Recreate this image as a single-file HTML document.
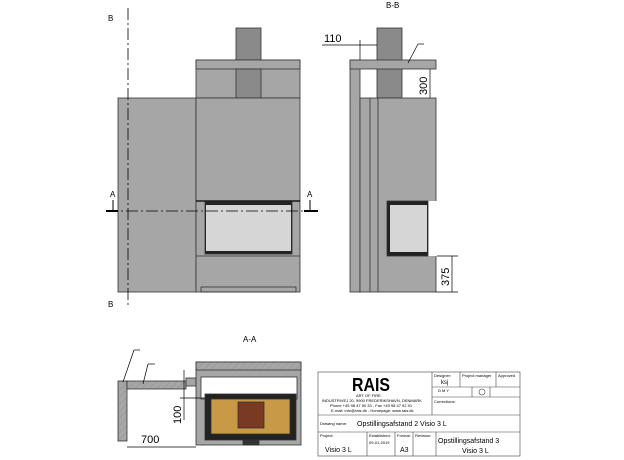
<!DOCTYPE html>
<html><head><style>
body{margin:0;background:#fff}
svg{display:block;font-family:"Liberation Sans",sans-serif}
</style></head><body>
<svg width="624" height="460" viewBox="0 0 624 460" xmlns="http://www.w3.org/2000/svg">
<g stroke="#333" stroke-width="0.8">
<rect x="236" y="28" width="25" height="70" fill="#8a8a8a"/>
<rect x="196" y="60" width="104" height="38" fill="#a6a6a6"/>
<rect x="196" y="60" width="104" height="9" fill="#a6a6a6"/>
<rect x="236" y="69" width="25" height="29" fill="#8a8a8a"/>
<rect x="118" y="98" width="78" height="194" fill="#a6a6a6"/>
<rect x="196" y="98" width="104" height="194" fill="#a6a6a6"/>
<line x1="196" y1="201" x2="300" y2="201" stroke="#000" stroke-width="1.2"/>
<line x1="196" y1="256" x2="300" y2="256"/>
<rect x="205" y="202" width="87" height="52" fill="#222"/>
<rect x="206" y="205" width="85" height="46" fill="#d6d6d6" stroke="none"/>
<rect x="201" y="287" width="95" height="5" fill="none"/>
</g>
<line x1="128" y1="8" x2="128" y2="305" stroke="#000" stroke-width="0.8" stroke-dasharray="12,3,2,3"/>
<line x1="106" y1="211" x2="318" y2="211" stroke="#000" stroke-width="0.8" stroke-dasharray="12,3,2,3"/>
<line x1="106" y1="211" x2="118" y2="211" stroke="#000" stroke-width="2"/>
<line x1="304" y1="211" x2="318" y2="211" stroke="#000" stroke-width="2"/>
<line x1="113" y1="200" x2="113" y2="210" stroke="#000"/>
<line x1="310" y1="200" x2="310" y2="210" stroke="#000"/>
<g font-size="8" fill="#000">
<text x="110" y="197">A</text><text x="307" y="197">A</text>
<text x="108" y="21">B</text><text x="108" y="307">B</text>
<text x="386" y="8">B-B</text>
<text x="243" y="342">A-A</text>
</g>
<g stroke="#333" stroke-width="0.8">
<rect x="377" y="28" width="25" height="70" fill="#8a8a8a"/>
<rect x="350" y="60" width="10" height="232" fill="#a6a6a6"/>
<rect x="350" y="60" width="86" height="9" fill="#a6a6a6"/>
<rect x="360" y="98" width="76" height="194" fill="#a6a6a6"/>
<line x1="370" y1="98" x2="370" y2="292"/><line x1="378" y1="98" x2="378" y2="292"/>
<rect x="428" y="201" width="9" height="55" fill="#fff" stroke="none"/>
<rect x="387" y="201" width="41" height="55" fill="#222"/>
<rect x="390" y="205" width="37" height="47" fill="#d6d6d6" stroke="none"/>
</g>
<g stroke="#000" stroke-width="0.7" fill="none">
<line x1="360" y1="40" x2="360" y2="60"/>
<line x1="322" y1="45" x2="377" y2="45"/>
<line x1="430" y1="69" x2="430" y2="98"/>
<line x1="436" y1="292" x2="458" y2="292"/>
<line x1="452" y1="256" x2="452" y2="292"/>
<line x1="437" y1="256" x2="458" y2="256"/>
<line x1="408" y1="63" x2="418" y2="44"/><line x1="418" y1="44" x2="424" y2="44"/>
</g>
<g font-size="11" fill="#000">
<text x="324" y="42">110</text>
<text transform="translate(427,95) rotate(-90)">300</text>
<text transform="translate(449,286) rotate(-90)">375</text>
</g>
<defs><pattern id="h" width="5" height="5" patternUnits="userSpaceOnUse" patternTransform="rotate(45)"><rect width="5" height="5" fill="#a6a6a6"/><line x1="0" y1="0" x2="0" y2="5" stroke="#888" stroke-width="0.6"/></pattern></defs>
<g stroke="#333" stroke-width="0.8">
<rect x="118" y="381" width="9" height="60" fill="url(#h)"/>
<rect x="127" y="381" width="59" height="8" fill="url(#h)"/>
<rect x="186" y="378" width="10" height="8" fill="#a6a6a6"/>
<rect x="196" y="362" width="105" height="83" fill="#a6a6a6"/>
<rect x="196" y="362" width="105" height="8" fill="url(#h)"/>
<rect x="201" y="377" width="96" height="22" fill="#fff"/>
<rect x="205" y="394" width="91" height="46" fill="#222"/>
<rect x="211" y="399" width="79" height="35" fill="#c89a45"/>
<rect x="238" y="402" width="26" height="26" fill="#7a3a22"/>
<rect x="243" y="440" width="16" height="5" fill="#333"/>
</g>
<g stroke="#000" stroke-width="0.7" fill="none">
<line x1="127" y1="447" x2="196" y2="447"/>
<line x1="184" y1="370" x2="184" y2="420"/>
<line x1="180" y1="398" x2="205" y2="398"/>
<line x1="123" y1="382" x2="134" y2="350"/><line x1="134" y1="350" x2="140" y2="350"/>
<line x1="143" y1="384" x2="148" y2="364"/><line x1="148" y1="364" x2="155" y2="364"/>
</g>
<g font-size="11" fill="#000">
<text x="141" y="443">700</text>
<text transform="translate(181,424) rotate(-90)">100</text>
</g>
<g stroke="#444" stroke-width="0.6" fill="none">
<rect x="318" y="372" width="202" height="84"/>
<line x1="432" y1="372" x2="432" y2="415"/>
<line x1="318" y1="415" x2="520" y2="415"/>
<line x1="318" y1="432" x2="520" y2="432"/>
<line x1="432" y1="387" x2="520" y2="387"/>
<line x1="432" y1="397" x2="520" y2="397"/>
<line x1="460" y1="372" x2="460" y2="387"/>
<line x1="496" y1="372" x2="496" y2="387"/>
<line x1="472" y1="387" x2="472" y2="397"/>
<line x1="490" y1="387" x2="490" y2="397"/>
<line x1="367" y1="432" x2="367" y2="456"/>
<line x1="395" y1="432" x2="395" y2="456"/>
<line x1="413" y1="432" x2="413" y2="456"/>
<line x1="436" y1="432" x2="436" y2="456"/>
<circle cx="482" cy="392" r="3"/>
</g>
<text x="352" y="391" font-size="18" font-weight="bold" fill="#000" textLength="38" lengthAdjust="spacingAndGlyphs">RAIS</text>
<g font-size="4" fill="#000">
<text x="356" y="397">ART OF FIRE</text>
<text x="322" y="402">INDUSTRIVEJ 20, 9900 FREDERIKSHAVN, DENMARK</text>
<text x="330" y="407">Phone +45 98 47 90 33 - Fax +45 98 47 92 91</text>
<text x="331" y="412">E-mail: info@rais.dk - Homepage: www.rais.dk</text>
<text x="434" y="377">Designer:</text><text x="462" y="377">Project manager</text><text x="498" y="377">Approved</text>
<text x="434" y="403">Corrections:</text>
<text x="320" y="425">Drawing name:</text>
<text x="320" y="437">Project:</text><text x="369" y="437">Established:</text><text x="397" y="437">Format:</text><text x="415" y="437">Revision:</text>
<text x="369" y="444">09-01-2019</text>
</g>
<g font-size="6" fill="#000"><text x="441" y="384">ksj</text><text x="438" y="392" font-size="4">D  M  Y</text></g>
<g font-size="7" fill="#000">
<text x="357" y="426">Opstillingsafstand 2 Visio 3 L</text>
<text x="325" y="452">Visio 3 L</text>
<text x="400" y="452">A3</text>
<text x="438" y="443">Opstillingsafstand 3</text>
<text x="462" y="453">Visio 3 L</text>
</g>
</svg>
</body></html>
